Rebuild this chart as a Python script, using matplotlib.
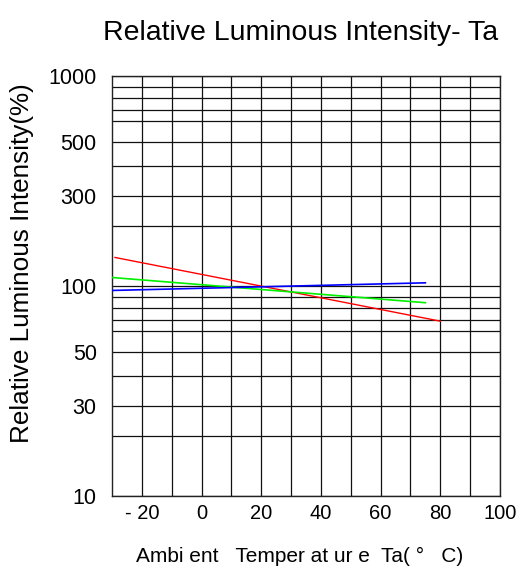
import numpy as np
import matplotlib
matplotlib.use("Agg")
import matplotlib.pyplot as plt
from matplotlib.ticker import FixedLocator, NullFormatter

plt.rcParams['font.family'] = ['Liberation Sans', 'DejaVu Sans']

# ---- data ----
red_temp = [-29, 80]
red_int = [147.7, 68.6]
green_temp = [-30, 75]
green_int = [114.2, 85.0]
blue_temp = [-30, 75]
blue_int = [96.0, 105.3]

x_labeled = [-20, 0, 20, 40, 60, 80, 100]
x_labels = ["- 20", "0", "20", "40", "60", "80", "100"]
x_grid = [-20, -10, 0, 10, 20, 30, 40, 50, 60, 70, 80, 90]
y_labeled = [10, 30, 50, 100, 300, 500, 1000]
y_labels = ["10", "30", "50", "100", "300", "500", "1000"]
y_grid = [20, 40, 60, 70, 80, 90, 200, 400, 600, 700, 800, 900]

# ---- the chart's own (hand-ruled) logarithmic paper ----
# mantissa -> fraction of a decade, as ruled on the original graph paper
mant = np.array([1, 2, 3, 4, 5, 6, 7, 8, 9, 10], dtype=float)
frac = np.array([0, 0.285, 0.428, 0.572, 0.688, 0.787, 0.840, 0.894, 0.947, 1.0])


def fwd(v):
    v = np.asarray(v, dtype=float)
    v = np.where(v > 0, v, 1e-300)
    d = np.floor(np.log10(v) + 1e-9)
    m = v / 10.0 ** d
    return d + np.interp(m, mant, frac)


def inv(p):
    p = np.asarray(p, dtype=float)
    d = np.floor(p + 1e-9)
    f = p - d
    return np.interp(f, frac, mant) * 10.0 ** d


fig = plt.figure(figsize=(5.19, 5.74), dpi=100)
ax = fig.add_axes([112 / 519, 1 - 496 / 574, 388 / 519, 420 / 574])
ax.set_yscale('function', functions=(fwd, inv))
ax.set_xlim(-30, 100)
ax.set_ylim(10, 1000)

ax.plot(red_temp, red_int, color='#ff0000', lw=1.0, zorder=3)
ax.plot(green_temp, green_int, color='#00f000', lw=1.2, zorder=3)
ax.plot(blue_temp, blue_int, color='#0000ff', lw=1.2, zorder=3)

ax.xaxis.set_major_locator(FixedLocator(x_labeled))
ax.set_xticklabels(x_labels)
ax.xaxis.set_minor_locator(FixedLocator(x_grid))
ax.xaxis.set_minor_formatter(NullFormatter())
ax.yaxis.set_major_locator(FixedLocator(y_labeled))
ax.set_yticklabels(y_labels)
ax.yaxis.set_minor_locator(FixedLocator(y_grid))
ax.yaxis.set_minor_formatter(NullFormatter())

ax.tick_params(which='both', length=0)
ax.tick_params(axis='y', pad=11, labelsize=15.5)
ax.tick_params(axis='x', pad=6, labelsize=14.5)

ax.grid(True, which='both', color='#111111', lw=0.9)
for s in ax.spines.values():
    s.set_color('#222222')
    s.set_linewidth(1.0)

fig.text(300.5 / 519, 1 - 33 / 574, "Relative Luminous Intensity- Ta",
         ha='center', va='center', fontsize=20.5)
fig.text(22 / 519, 1 - 263 / 574, "Relative Luminous Intensity(%)",
         ha='center', va='center', rotation=90, fontsize=18.8)
fig.text(300 / 519, 1 - 556 / 574, "Ambi ent   Temper at ur e  Ta( \u00b0   C)",
         ha='center', va='center', fontsize=15)

fig.savefig("out.png", dpi=100)
